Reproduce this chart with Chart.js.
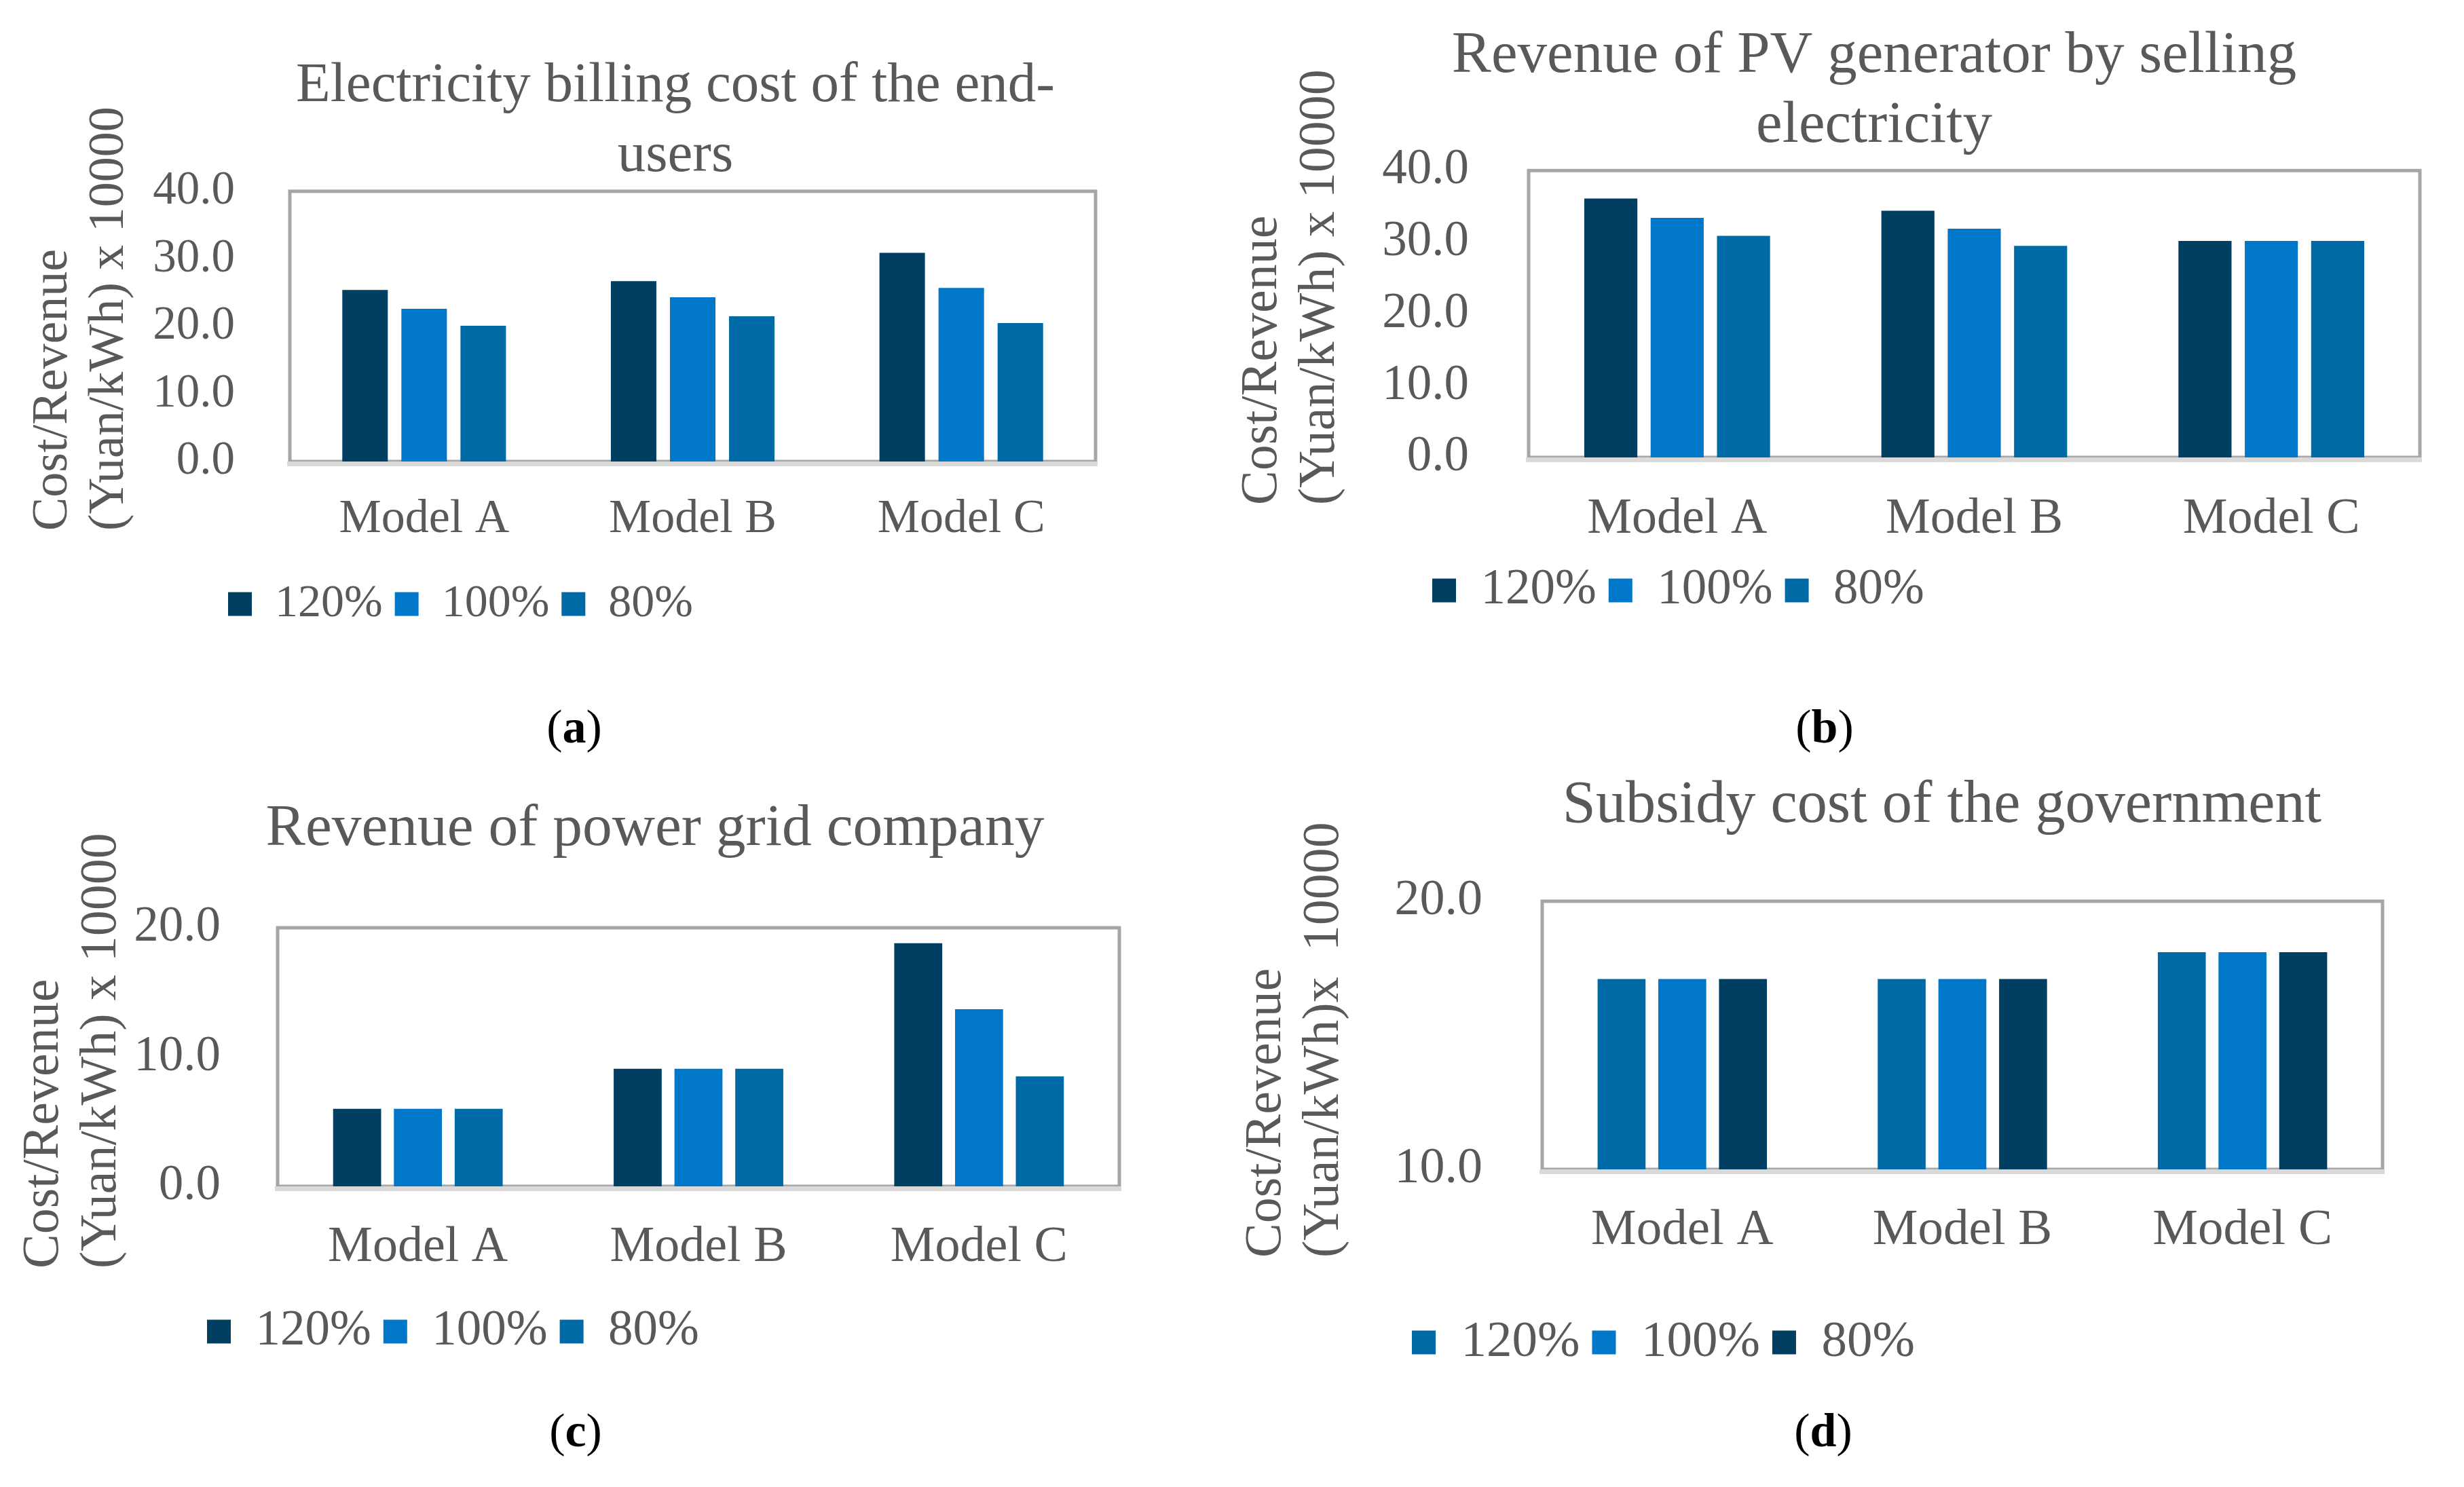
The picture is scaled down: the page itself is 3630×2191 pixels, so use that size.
<!DOCTYPE html>
<html>
<head>
    <title>Cost and revenue by model</title>
    <script src="https://cdn.jsdelivr.net/npm/chart.js"></script>
    <style>
        body {
            margin: 0;
            background: #ffffff;
            width: 3630px;
            height: 2191px;
            overflow: hidden;
            position: relative;
            font-family: 'Liberation Serif', 'Times New Roman', serif;
        }
        .panel { position: absolute; }
        .cap {
            position: absolute;
            font-size: 70px;
            color: #000;
            transform: translate(-50%, -50%);
            white-space: nowrap;
        }
    </style>
</head>
<body>

<div class="panel" style="left:0px;top:0px;width:1660px;height:960px"><canvas id="chartA"></canvas></div>
<div class="panel" style="left:1800px;top:0px;width:1830px;height:960px"><canvas id="chartB"></canvas></div>
<div class="panel" style="left:0px;top:1080px;width:1720px;height:1000px"><canvas id="chartC"></canvas></div>
<div class="panel" style="left:1800px;top:1080px;width:1830px;height:1000px"><canvas id="chartD"></canvas></div>

<div class="cap" style="left:846px;top:1071px">(<b>a</b>)</div>
<div class="cap" style="left:2688px;top:1071px">(<b>b</b>)</div>
<div class="cap" style="left:848px;top:2108px">(<b>c</b>)</div>
<div class="cap" style="left:2686px;top:2108px">(<b>d</b>)</div>

<script>
// categories and series
const models = ['Model A', 'Model B', 'Model C'];
const shares = ['120%', '100%', '80%'];

// (a) electricity billing cost of the end-users
const billing120 = [25.4, 26.7, 30.9];
const billing100 = [22.6, 24.3, 25.7];
const billing80 = [20.1, 21.5, 20.5];

// (b) revenue of PV generator
const pv120 = [36.1, 34.4, 30.2];
const pv100 = [33.4, 31.9, 30.2];
const pv80 = [30.9, 29.5, 30.2];

// (c) revenue of power grid company
const grid120 = [6.0, 9.1, 18.8];
const grid100 = [6.0, 9.1, 13.7];
const grid80 = [6.0, 9.1, 8.5];

// (d) subsidy cost of the government
const subsidy120 = [17.1, 17.1, 18.1];
const subsidy100 = [17.1, 17.1, 18.1];
const subsidy80 = [17.1, 17.1, 18.1];

// y axis ranges (tick labels every 10)
const rangeA = [0, 40];
const rangeB = [0, 40];
const rangeC = [0, 20];
const rangeD = [10, 20];

const grey = '#595959';
const dark = '#003F62';
const bright = '#0077C8';
const mid = '#006AA6';

Chart.defaults.font.family = "'Liberation Serif', 'Times New Roman', serif";
Chart.defaults.color = grey;

// gray box round the plot, light base line at the bottom
const frame = {
    id: 'frame',
    beforeDatasetsDraw(chart) {
        const {ctx, chartArea: a} = chart;
        ctx.save();
        ctx.strokeStyle = '#A6A6A6';
        ctx.lineWidth = 5;
        ctx.strokeRect(a.left, a.top, a.right - a.left, a.bottom - a.top);
        ctx.fillStyle = '#D9D9D9';
        ctx.fillRect(a.left - 4, a.bottom, a.right - a.left + 7, 7);
        ctx.restore();
    }
};

// move title, legend and the start of the y title to where the original has them
const nudge = {
    id: 'nudge',
    afterLayout(chart, args, opts) {
        const t = chart.titleBlock;
        if (t && opts.titleX != null) {
            const dx = opts.titleX - (t.left + t.right) / 2;
            t.left += dx; t.right += dx;
        }
        const lg = chart.legend;
        if (lg && opts.legendX != null) {
            const pad = lg.options.labels.padding;
            const dx = opts.legendX - (lg.left + pad);
            const dy = opts.legendY - (lg.top + pad + opts.legendFont / 2);
            lg.left += dx; lg.right += dx;
            lg.top += dy; lg.bottom += dy;
        }
        // y title is drawn from scale.bottom upwards (align start);
        // the value->pixel mapping is already fixed at this point
        if (opts.yTitleStart != null) {
            chart.scales.y.bottom = opts.yTitleStart;
        }
    },
    beforeDatasetsDraw(chart) {
        // put it back so the bars are clipped to the plot area
        chart.scales.y.bottom = chart.chartArea.bottom;
    }
};

function makeChart(id, p) {
    return new Chart(document.getElementById(id), {
        type: 'bar',
        data: {
            labels: models,
            datasets: p.series.map((vals, i) => ({
                label: shares[i],
                data: vals,
                backgroundColor: p.colors[i],
                borderWidth: 0,
                barPercentage: p.bar,
                categoryPercentage: p.cat
            }))
        },
        options: {
            responsive: true,
            maintainAspectRatio: false,
            animation: false,
            layout: { padding: { left: 0, top: 0, right: p.padRight, bottom: p.padBottom } },
            scales: {
                x: {
                    grid: { display: false, drawTicks: false },
                    border: { display: false },
                    ticks: { font: { size: p.xFont }, color: grey, padding: p.xPad, maxRotation: 0 },
                    afterFit: s => { s.height = p.xH; }
                },
                y: {
                    min: p.range[0],
                    max: p.range[1],
                    grid: { display: false, drawTicks: false },
                    border: { display: false },
                    ticks: {
                        stepSize: 10,
                        font: { size: p.yFont },
                        color: grey,
                        padding: p.yPad,
                        callback: v => Number(v).toFixed(1)
                    },
                    title: {
                        display: true,
                        align: 'start',
                        text: p.yTitle,
                        color: grey,
                        font: { size: p.yTitleFont, lineHeight: 1.12 },
                        padding: { top: p.yTitlePad, bottom: 0 }
                    },
                    afterFit: s => { s.width = p.yW; }
                }
            },
            plugins: {
                title: {
                    display: true,
                    text: p.title,
                    color: grey,
                    font: { size: p.titleFont, weight: 'normal', lineHeight: p.titleLH },
                    padding: { top: p.titlePadTop, bottom: p.titlePadBottom }
                },
                legend: {
                    position: 'bottom',
                    align: 'start',
                    labels: {
                        boxWidth: 35,
                        boxHeight: 35,
                        padding: 18,
                        color: grey,
                        font: { size: p.legendFont }
                    }
                },
                tooltip: { enabled: false },
                nudge: {
                    titleX: p.titleX, legendX: p.legendX, legendY: p.legendY,
                    legendFont: p.legendFont, yTitleStart: p.yTitleStart
                }
            }
        },
        plugins: [frame, nudge]
    });
}

// padBottom values keep the plot area where it was with legend padding 26
makeChart('chartA', {
    series: [billing120, billing100, billing80], colors: [dark, bright, mid], range: rangeA,
    title: ['Electricity billing cost of the end-', 'users'],
    yTitle: ['Cost/Revenue', '(Yuan/kWh) x 10000'],
    padRight: 46, padBottom: 56,
    xFont: 70, xPad: 44, xH: 128,
    yFont: 69, yPad: 81, yW: 427, yTitleFont: 74, yTitlePad: 37, yTitleStart: 782,
    titleFont: 83, titleLH: 1.24, titlePadTop: 76, titlePadBottom: 0, titleX: 995,
    legendFont: 68, legendX: 336, legendY: 890,
    bar: 0.77, cat: 0.66
});

makeChart('chartB', {
    series: [pv120, pv100, pv80], colors: [dark, bright, mid], range: rangeB,
    title: ['Revenue of PV generator by selling', 'electricity'],
    yTitle: ['Cost/Revenue', '(Yuan/kWh) x 10000'],
    padRight: 65, padBottom: 55,
    xFont: 74, xPad: 47, xH: 130,
    yFont: 73, yPad: 88, yW: 452, yTitleFont: 76, yTitlePad: 17, yTitleStart: 744,
    titleFont: 87, titleLH: 1.18, titlePadTop: 32, titlePadBottom: 14, titleX: 961,
    legendFont: 73, legendX: 310, legendY: 870,
    bar: 0.8, cat: 0.67
});

makeChart('chartC', {
    series: [grid120, grid100, grid80], colors: [dark, bright, mid], range: rangeC,
    title: 'Revenue of power grid company',
    yTitle: ['Cost/Revenue', '(Yuan/kWh) x 10000'],
    padRight: 71, padBottom: 101,
    xFont: 74, xPad: 46, xH: 130,
    yFont: 73, yPad: 84, yW: 409, yTitleFont: 76, yTitlePad: 22, yTitleStart: 789,
    titleFont: 87.5, titleLH: 1.2, titlePadTop: 90, titlePadBottom: 92, titleX: 965,
    legendFont: 73, legendX: 305, legendY: 882,
    bar: 0.79, cat: 0.65
});

makeChart('chartD', {
    series: [subsidy120, subsidy100, subsidy80], colors: [mid, bright, dark], range: rangeD,
    title: 'Subsidy cost of the government',
    yTitle: ['Cost/Revenue', '(Yuan/kWh)x  10000'],
    padRight: 120, padBottom: 124,
    xFont: 75, xPad: 45, xH: 130,
    yFont: 74, yPad: 88, yW: 472, yTitleFont: 76, yTitlePad: 23, yTitleStart: 773,
    titleFont: 88.3, titleLH: 1.2, titlePadTop: 55, titlePadBottom: 87, titleX: 1061,
    legendFont: 75, legendX: 280, legendY: 898,
    bar: 0.79, cat: 0.65
});
</script>

</body>
</html>
